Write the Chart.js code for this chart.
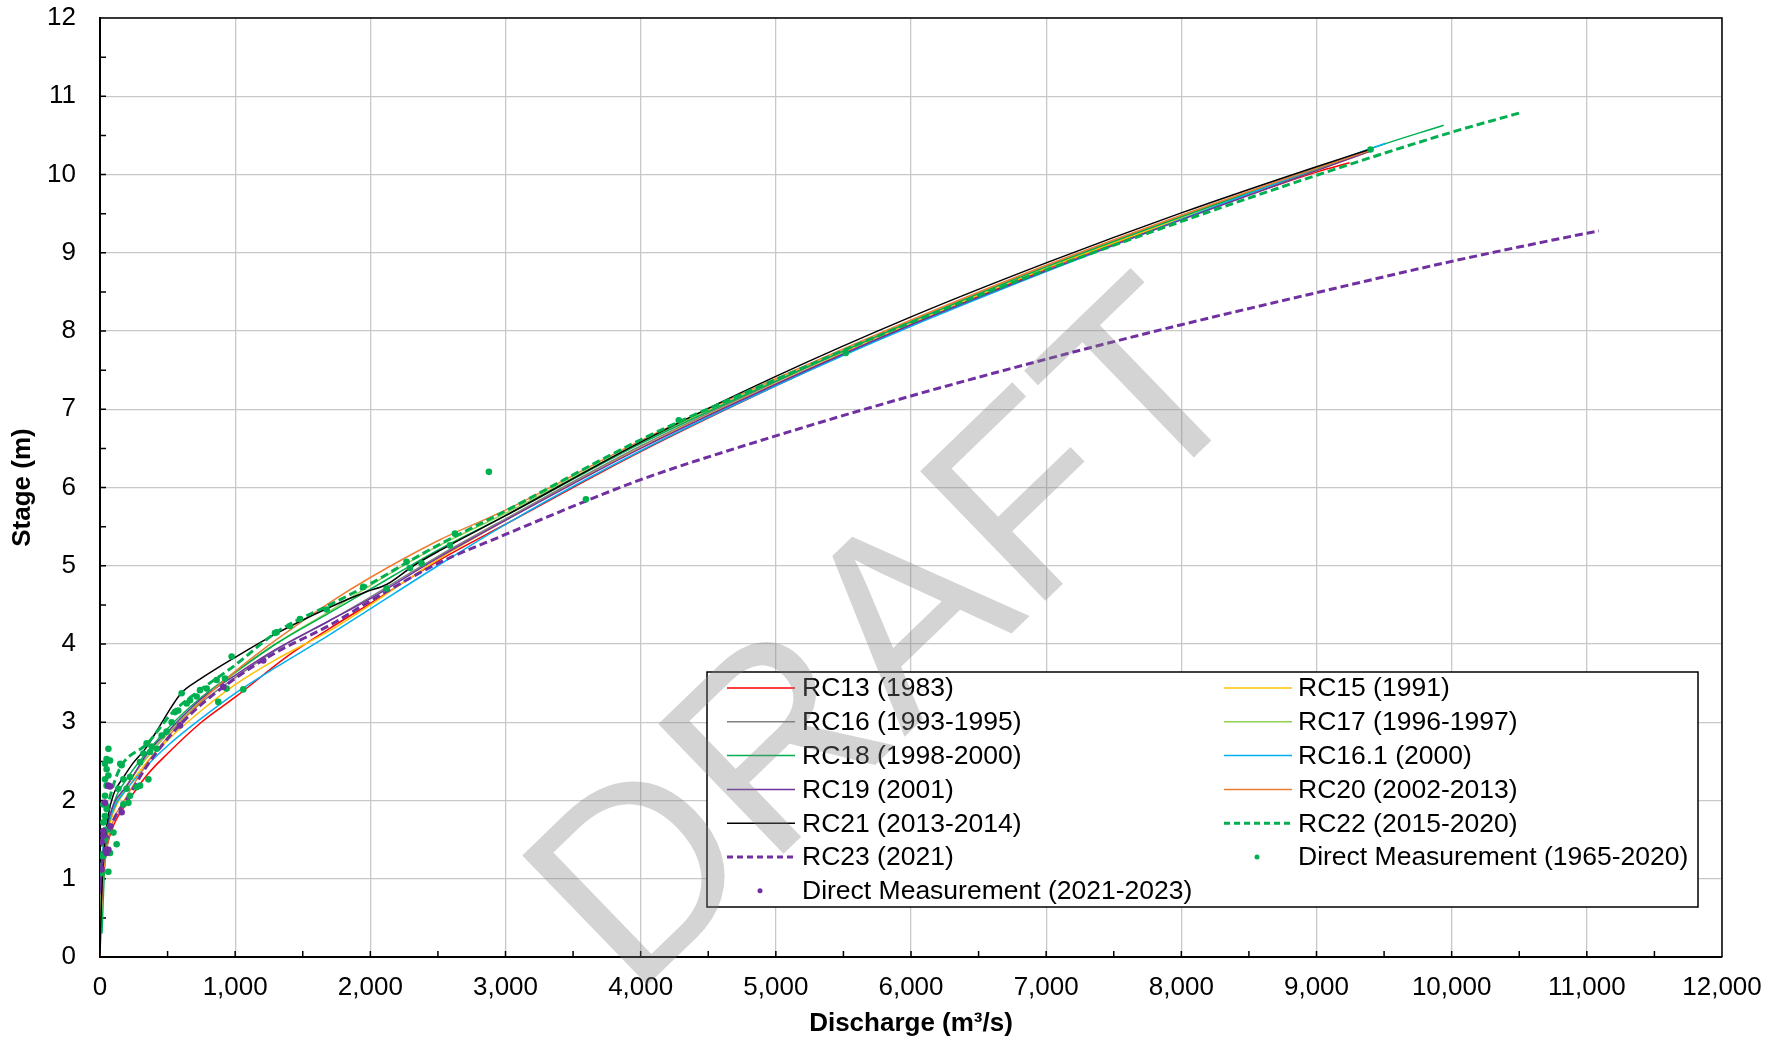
<!DOCTYPE html>
<html>
<head>
<meta charset="utf-8">
<script src="https://cdn.jsdelivr.net/npm/chart.js@4.4.1/dist/chart.umd.min.js"></script>
<style>
html, body { margin: 0; padding: 0; background: #fff; }
#wrap { width: 1786px; height: 1042px; }
</style>
</head>
<body>
<div id="wrap"><canvas id="rating" width="1786" height="1042"></canvas></div>
<script>
// rating curves, [discharge m3/s, stage m]
const rc13 = [[5,0.75],[20,1.05],[50,1.4],[100,1.68],[200,1.97],[350,2.33],[500,2.6],[750,3.0],[1000,3.32],[1400,3.86],[1700,4.2],[2000,4.52],[2500,5.06],[3000,5.53],[4000,6.46],[5000,7.3],[6000,8.08],[7000,8.79],[8000,9.43],[9000,10.03],[9245,10.15]];
const rc15 = [[0,0.3],[20,1.1],[50,1.5],[100,1.85],[200,2.15],[350,2.5],[500,2.77],[750,3.15],[1000,3.48],[1300,3.8],[1700,4.17],[2000,4.5],[2500,5.08],[3000,5.58],[4000,6.52],[5000,7.33],[6000,8.1],[7000,8.8],[8000,9.44],[9000,10.05],[9400,10.3]];
const rc16 = [[0,0.6],[20,1.2],[50,1.6],[100,1.88],[200,2.2],[350,2.56],[500,2.85],[750,3.25],[1000,3.57],[1300,3.92],[1700,4.3],[2000,4.6],[2500,5.12],[3000,5.6],[4000,6.53],[5000,7.35],[6000,8.12],[7000,8.83],[8000,9.47],[9000,10.08],[9400,10.32]];
const rc17 = [[0,0.5],[20,1.2],[50,1.6],[100,1.9],[200,2.2],[350,2.56],[500,2.86],[750,3.28],[1000,3.63],[1300,4.0],[1700,4.42],[2000,4.75],[2500,5.25],[3000,5.67],[4000,6.58],[5000,7.37],[6000,8.12],[7000,8.82],[8000,9.46],[9000,10.07],[9400,10.3]];
const rc18 = [[15,0.3],[30,1.0],[50,1.5],[100,1.95],[200,2.28],[350,2.62],[500,2.92],[750,3.32],[1000,3.64],[1300,4.0],[1700,4.4],[2000,4.7],[2500,5.2],[3000,5.64],[4000,6.56],[5000,7.36],[6000,8.12],[7000,8.82],[8000,9.46],[9000,10.07],[9400,10.33],[9941,10.63]];
const rc161 = [[0,1.0],[20,1.35],[50,1.65],[100,1.9],[200,2.15],[350,2.45],[500,2.7],[750,3.05],[1000,3.37],[1300,3.7],[1700,4.12],[2000,4.45],[2500,5.0],[3000,5.53],[4000,6.47],[5000,7.3],[6000,8.06],[7000,8.76],[8000,9.43],[9000,10.08],[9512,10.4]];
const rc19 = [[0,0.8],[20,1.3],[50,1.65],[100,1.95],[200,2.19],[350,2.6],[500,2.88],[750,3.3],[1000,3.6],[1300,3.93],[1700,4.3],[2000,4.58],[2500,5.1],[3000,5.58],[4000,6.5],[5000,7.32],[6000,8.08],[7000,8.77],[8000,9.42],[9000,10.05],[9400,10.3]];
const rc20 = [[0,0],[10,0.6],[30,1.1],[60,1.5],[100,1.75],[200,2.06],[350,2.48],[500,2.81],[750,3.27],[1000,3.65],[1300,4.05],[1700,4.53],[2000,4.85],[2500,5.32],[3000,5.71],[4000,6.6],[5000,7.39],[6000,8.14],[7000,8.84],[8000,9.48],[9000,10.08],[9400,10.31]];
const rc21 = [[0,0],[10,0.7],[30,1.35],[60,1.8],[100,2.08],[175,2.3],[250,2.49],[335,2.66],[445,2.96],[530,3.2],[605,3.38],[740,3.55],[1000,3.83],[1300,4.13],[1700,4.47],[1975,4.67],[2120,4.76],[2320,5.0],[2520,5.2],[3000,5.64],[4000,6.58],[5000,7.42],[6000,8.18],[7000,8.87],[8000,9.51],[9000,10.1],[9393,10.32]];
const rc22 = [[0,1.1],[20,1.45],[50,1.85],[100,2.2],[160,2.45],[345,2.72],[540,3.13],[740,3.41],[1000,3.73],[1280,4.12],[1400,4.25],[1700,4.5],[2000,4.77],[2320,5.09],[2520,5.28],[3000,5.7],[4000,6.61],[5000,7.38],[6000,8.11],[7000,8.78],[8000,9.4],[9000,9.99],[10000,10.54],[10510,10.79]];
const rc23 = [[0,1.0],[20,1.25],[50,1.5],[100,1.75],[200,2.02],[350,2.45],[500,2.79],[700,3.15],[1000,3.56],[1300,3.89],[1700,4.24],[2000,4.55],[2500,5.03],[3000,5.4],[3600,5.83],[4000,6.1],[5000,6.66],[6000,7.17],[7000,7.64],[8000,8.08],[9000,8.49],[10000,8.89],[11000,9.25],[11090,9.28]];

// direct measurements
const meas1965 = [[12,1.07],[25,1.29],[37,1.5],[49,1.63],[25,1.72],[37,1.8],[49,1.89],[25,1.95],[37,2.06],[49,2.19],[37,2.27],[62,2.32],[49,2.4],[37,2.47],[74,2.51],[49,2.53],[62,2.66],[62,1.09],[74,1.33],[99,1.59],[123,1.44],[136,2.15],[150,2.47],[160,2.45],[173,2.27],[173,1.95],[197,2.15],[210,1.97],[222,2.3],[222,2.06],[271,2.17],[296,2.19],[296,2.49],[321,2.6],[345,2.73],[370,2.62],[358,2.27],[382,2.69],[419,2.66],[456,2.83],[493,2.88],[530,3.0],[555,3.13],[579,3.15],[604,3.37],[641,3.24],[666,3.28],[715,3.33],[740,3.41],[789,3.43],[863,3.54],[875,3.26],[925,3.56],[937,3.43],[974,3.84],[1060,3.42],[1294,4.14],[1307,4.15],[1405,4.23],[1479,4.32],[1677,4.44],[1947,4.73],[2120,4.71],[2268,5.05],[2293,4.97],[2379,5.03],[2589,5.26],[2626,5.41],[2877,6.2],[3595,5.85],[4282,6.86],[5517,7.72],[9400,10.32]];
const meas2021 = [[12,1.12],[12,1.47],[25,1.55],[25,1.61],[37,1.97],[49,1.33],[49,1.37],[62,1.37],[62,2.19],[74,1.67],[74,2.18],[160,1.85],[592,2.96],[912,3.45],[1208,3.79]];

const seriesNames = ['RC13 (1983)', 'RC15 (1991)', 'RC16 (1993-1995)', 'RC17 (1996-1997)', 'RC18 (1998-2000)',
  'RC16.1 (2000)', 'RC19 (2001)', 'RC20 (2002-2013)', 'RC21 (2013-2014)', 'RC22 (2015-2020)', 'RC23 (2021)',
  'Direct Measurement (1965-2020)', 'Direct Measurement (2021-2023)'];
const seriesData = [rc13, rc15, rc16, rc17, rc18, rc161, rc19, rc20, rc21, rc22, rc23, meas1965, meas2021];
const seriesColors = ['#ff0000', '#ffc000', '#808080', '#92d050', '#00b050', '#00b0f0', '#7030a0', '#ed7d31', '#000000', '#00b050', '#7030a0', '#00b050', '#7030a0'];
const seriesKind = ['line', 'line', 'line', 'line', 'line', 'line', 'line', 'line', 'line', 'dash', 'dash', 'dot', 'dot'];

const xTicks = [0, 1000, 2000, 3000, 4000, 5000, 6000, 7000, 8000, 9000, 10000, 11000, 12000];
const yTicks = [0, 1, 2, 3, 4, 5, 6, 7, 8, 9, 10, 11, 12];

const FONT = '"Liberation Sans", Arial, sans-serif';
Chart.defaults.font.family = FONT;
Chart.defaults.color = '#000';

const datasets = seriesData.map((d, i) => {
  const kind = seriesKind[i];
  return {
    label: seriesNames[i],
    data: d.map(p => ({ x: p[0], y: p[1] })),
    showLine: kind !== 'dot',
    borderColor: seriesColors[i],
    backgroundColor: seriesColors[i],
    borderWidth: kind === 'dash' ? 3 : 1.5,
    borderDash: kind === 'dash' ? [8, 4] : [],
    pointRadius: kind === 'dot' ? 3.3 : 0,
    pointBorderWidth: 0,
    cubicInterpolationMode: 'monotone',
    order: seriesData.length - i
  };
});

const decor = {
  id: 'decor',
  beforeDatasetsDraw(chart) {
    const { ctx, chartArea: a, scales: { x, y } } = chart;
    ctx.save();
    ctx.strokeStyle = '#000';
    ctx.lineWidth = 1.5;
    ctx.beginPath();
    for (let v = 500; v < 12000; v += 500) {
      const px = x.getPixelForValue(v);
      ctx.moveTo(px, a.bottom);
      ctx.lineTo(px, a.bottom - 6);
    }
    for (let v = 0.5; v < 12; v += 0.5) {
      const py = y.getPixelForValue(v);
      ctx.moveTo(a.left, py);
      ctx.lineTo(a.left + 6, py);
    }
    ctx.stroke();
    ctx.beginPath();
    ctx.moveTo(a.left, a.top);
    ctx.lineTo(a.right, a.top);
    ctx.lineTo(a.right, a.bottom);
    ctx.stroke();
    ctx.restore();
  },
  afterDraw(chart) {
    const ctx = chart.ctx;
    ctx.save();
    // legend box
    const bx = 707, by = 672, bw = 991, bh = 235;
    ctx.fillStyle = '#fff';
    ctx.fillRect(bx, by, bw, bh);
    ctx.strokeStyle = '#000';
    ctx.lineWidth = 1.5;
    ctx.strokeRect(bx, by, bw, bh);
    ctx.font = '26.5px ' + FONT;
    ctx.textBaseline = 'middle';
    ctx.textAlign = 'left';
    seriesNames.forEach((name, i) => {
      const col = i % 2, row = Math.floor(i / 2);
      const lx = col === 0 ? 727 : 1224;
      const tx = col === 0 ? 802 : 1298;
      const ly = 688 + row * 33.8;
      const kind = seriesKind[i];
      ctx.strokeStyle = seriesColors[i];
      ctx.fillStyle = seriesColors[i];
      if (kind === 'dot') {
        ctx.beginPath();
        ctx.arc(lx + 33, ly, 2.5, 0, Math.PI * 2);
        ctx.fill();
      } else {
        ctx.lineWidth = kind === 'dash' ? 3 : 1.5;
        ctx.setLineDash(kind === 'dash' ? [6, 4] : []);
        ctx.beginPath();
        ctx.moveTo(lx, ly);
        ctx.lineTo(lx + 68, ly);
        ctx.stroke();
        ctx.setLineDash([]);
      }
      ctx.fillStyle = '#000';
      ctx.fillText(name, tx, ly + 1);
    });
    // watermark
    ctx.translate(632, 1000);
    ctx.rotate(-44 * Math.PI / 180);
    ctx.font = '262px ' + FONT;
    ctx.textBaseline = 'alphabetic';
    ctx.fillStyle = 'rgba(128,128,128,0.34)';
    ctx.fillText('DRAFT', 0, 0);
    ctx.restore();
  }
};

new Chart(document.getElementById('rating'), {
  type: 'scatter',
  data: { datasets },
  options: {
    responsive: false,
    animation: false,
    layout: { padding: { left: 0, top: 18, right: 64, bottom: 0 } },
    plugins: { legend: { display: false }, tooltip: { enabled: false } },
    scales: {
      x: {
        type: 'linear',
        min: 0,
        max: 12000,
        afterFit(scale) { scale.height = 85; scale.paddingLeft = 0; scale.paddingRight = 0; },
        afterBuildTicks(scale) { scale.ticks = xTicks.map(v => ({ value: v })); },
        ticks: {
          padding: 15,
          font: { size: 26 },
          color: '#000',
          callback: v => v.toLocaleString('en-US')
        },
        grid: { color: '#c8c8c8', lineWidth: 1.3, drawTicks: false },
        border: { display: true, color: '#000', width: 2 },
        title: {
          display: true,
          text: 'Discharge (m³/s)',
          font: { size: 26, weight: 'bold' },
          color: '#000',
          padding: { top: 0, bottom: 3 }
        }
      },
      y: {
        type: 'linear',
        min: 0,
        max: 12,
        afterFit(scale) { scale.width = 100; scale.paddingTop = 0; scale.paddingBottom = 0; },
        afterBuildTicks(scale) { scale.ticks = yTicks.map(v => ({ value: v })); },
        ticks: {
          padding: 24,
          font: { size: 26 },
          color: '#000'
        },
        grid: { color: '#c8c8c8', lineWidth: 1.3, drawTicks: false },
        border: { display: true, color: '#000', width: 2 },
        title: {
          display: true,
          text: 'Stage (m)',
          font: { size: 26, weight: 'bold' },
          color: '#000',
          padding: { top: 7, bottom: 0 }
        }
      }
    }
  },
  plugins: [decor]
});
</script>
</body>
</html>
